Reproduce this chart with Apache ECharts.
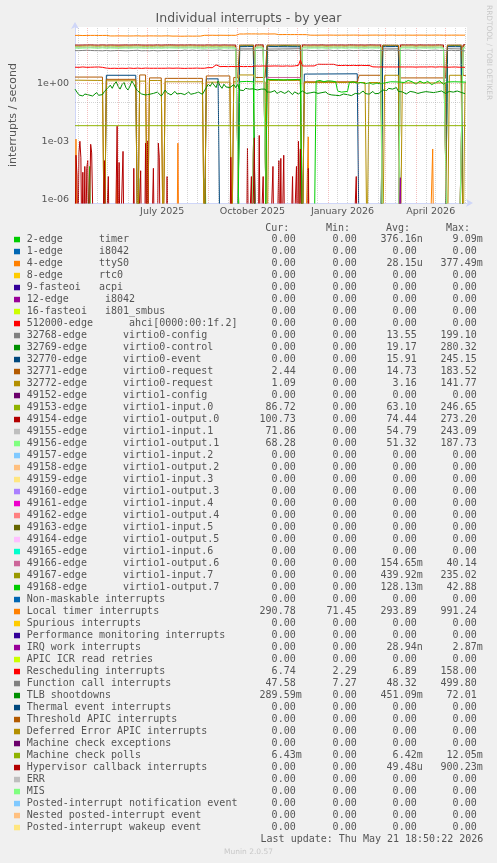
<!DOCTYPE html>
<html><head><meta charset="utf-8">
<script src="https://cdn.jsdelivr.net/npm/echarts@6/dist/echarts.min.js"></script>
<style>html,body{margin:0;padding:0;background:#F0F0F0;}#c{width:497px;height:863px;}</style>
</head><body><div id="c"></div>
<script>
// ---------- x axis (days since 2025-04-18) ----------
const startDate = Date.UTC(2025, 3, 18);
const DAY = 86400000;
const spanDays = 400;
const xLabelDates = [Date.UTC(2025,6,16), Date.UTC(2025,9,16), Date.UTC(2026,0,16), Date.UTC(2026,3,16)];
const xLabels = ['July 2025', 'October 2025', 'January 2026', 'April 2026'];
// ---------- y axis ----------
const yMin = 6.42e-7, yMax = 818;
const yTickValues = [1e-6, 1e-3, 1];
const yTickLabels = ['1e-06', '1e-03', '1e+00'];

// ---------- dense series (one value every 2 days) ----------
const loc = [
300,298,302,300,296,301,299,303,300,297,301,300,298,302,299,301,300,284,282,285,
282,280,284,281,283,279,282,285,281,280,283,282,286,281,279,283,282,280,284,281,
283,281,282,285,280,282,284,281,283,285,276,274,277,275,273,276,274,275,277,274,
275,273,276,274,277,305,303,307,304,302,306,305,303,304,306,302,305,307,303,305,
304,306,303,352,356,358,354,357,360,355,358,356,359,357,354,356,360,358,355,359,
357,355,359,356,331,328,332,330,333,329,331,330,332,329,331,328,330,332,329,331,
310,312,308,311,309,313,310,307,311,309,312,308,310,311,309,312,310,308,311,309,
310,308,312,309,311,310,307,312,309,311,310,308,311,309,312,310,308,311,310,309,
311,309,312,310,308,311,309,312,310,308,311,310,309,312,310,308,311,309,310,312,
309,311,310,308,312,309,311,310,308,311,309,312,310,308,311,309,310,312,309,311];
const cal = [
49,50,49,48,50,49,51,49,50,48,49,50,49,51,48,49,50,49,48,50,
49,48,50,49,49,51,48,50,49,48,50,49,51,49,48,50,49,50,48,49,
50,49,48,50,49,51,50,48,49,50,49,48,50,51,49,50,52,51,50,51,
52,51,50,52,51,53,52,50,51,52,51,50,52,51,53,51,50,52,51,50,
51,50,52,51,50,49,51,50,52,50,51,49,50,51,50,52,51,50,49,51,
50,51,49,50,52,51,50,49,51,50,51,49,50,51,50,49,51,50,52,51,
50,51,49,50,51,52,50,49,51,50,52,51,49,50,51,50,49,51,50,52,
51,50,49,51,50,52,51,49,50,51,50,52,51,50,49,51,50,51,49,50,
51,50,52,49,50,51,50,49,51,50,52,51,50,49,51,50,51,50,49,51,
50,49,51,50,52,51,50,49,51,50,49,50,51,50,49,48,50,49,48,48];
const res = [
6.8,6.9,6.7,6.8,7.0,6.8,6.7,6.9,6.8,6.7,6.9,6.8,7.0,6.8,6.7,6.9,6.1,6.0,5.9,6.0,
6.0,6.1,5.9,6.0,6.0,6.2,5.9,6.0,6.1,6.0,5.9,6.0,6.1,6.0,5.9,6.0,6.1,6.0,6.0,5.9,
6.0,6.1,6.0,5.9,6.0,6.2,6.0,5.9,6.1,6.0,6.0,5.9,6.1,6.0,6.0,6.1,5.9,6.0,6.0,6.1,
6.0,5.9,6.1,6.0,6.0,6.1,6.0,6.4,6.5,6.3,6.4,6.5,9.0,7.4,7.3,7.5,7.4,7.4,7.3,7.5,
7.4,7.5,7.3,7.4,7.5,7.4,7.3,7.5,7.4,7.4,7.3,7.5,7.8,7.9,7.7,7.8,7.9,7.8,7.7,7.9,
7.8,7.7,7.9,7.8,7.8,7.9,7.7,7.8,7.9,7.8,7.7,7.8,7.9,7.8,8.5,16,7.9,8.0,7.8,7.9,
7.9,8.0,7.9,9.6,9.7,9.5,9.6,9.7,9.6,9.5,9.6,9.7,9.6,9.5,8.4,8.5,8.3,8.4,8.5,8.4,
8.3,8.4,8.5,8.4,8.3,8.4,8.5,8.4,8.3,8.4,8.4,7.0,7.1,6.9,7.0,7.1,7.0,6.9,7.0,7.1,
7.0,6.9,7.0,7.1,7.0,6.9,7.0,7.1,7.0,6.9,7.0,7.1,7.0,7.0,6.9,7.1,7.0,6.9,7.0,7.1,
7.0,6.9,7.1,7.0,6.9,7.0,7.1,6.8,7.0,6.9,6.8,7.0,6.9,6.8,7.0,6.9,6.8,6.9,6.8,6.7];
const tlb = [
0.5,0.35,0.25,0.3,0.22,0.28,0.35,0.25,0.3,0.22,0.27,0.33,0.24,0.3,0.26,0.38,0.45,0.6,0.8,0.55,
0.9,1.2,0.7,0.5,0.85,1.1,0.6,0.45,0.7,1.3,0.9,0.55,0.4,0.35,0.28,0.32,0.25,0.3,0.27,0.24,
0.3,0.26,0.35,0.28,0.22,0.3,0.45,0.32,0.27,0.25,0.3,0.38,0.28,0.24,0.3,0.33,0.26,0.29,0.36,0.27,
0.25,0.3,0.28,0.35,0.3,0.27,0.32,0.6,0.9,0.7,1.1,0.8,0.6,1.3,0.75,0.55,0.9,0.65,0.8,0.6,
0.7,0.85,0.6,0.9,0.45,0.5,0.42,0.55,0.48,0.5,0.44,0.52,0.5,0.45,0.55,0.5,0.42,0.5,0.35,0.3,
0.35,0.28,0.42,0.3,0.25,0.38,0.45,0.3,0.27,0.4,0.33,0.26,0.36,0.3,0.28,0.34,0.4,0.35,0.3,0.38,
0.32,0.28,0.35,0.4,0.3,0.27,0.33,0.3,0.36,0.28,0.3,0.25,0.22,0.24,0.26,0.23,0.25,0.28,0.24,0.26,
0.25,0.23,0.27,0.3,0.35,0.28,0.32,0.4,0.3,0.34,0.27,0.31,0.38,0.29,0.33,0.3,0.36,0.45,0.5,0.42,
0.55,0.48,0.5,0.45,0.6,0.38,0.32,0.36,0.3,0.28,0.33,0.38,0.3,0.35,0.42,0.3,0.28,0.34,0.31,0.37,
0.45,0.35,0.3,0.33,0.28,0.36,0.3,0.4,0.32,0.3,0.34,0.38,0.42,0.35,0.3,0.4,0.5,0.34,0.3,0.29];
const in0 = [
84,85,83,86,84,83,85,84,86,83,84,85,83,84,86,85,83,84,85,83,
84,86,83,85,84,83,85,86,84,83,85,84,86,83,84,85,83,86,84,85,
83,84,86,85,83,84,85,83,86,84,85,83,84,86,85,83,84,85,86,84,
85,83,84,86,84,85,83,84,86,85,83,84,85,86,83,84,85,83,84,86,
84,85,83,84,0,0,0,0,0,0,0,0,85,84,86,83,85,84,0,0,
0,0,0,0,0,0,0,0,0,0,0,0,0,0,0,0,86,84,85,83,
84,86,85,83,84,85,86,84,83,85,84,86,85,83,84,86,85,84,83,85,
86,84,85,83,84,86,85,84,83,85,86,84,85,83,84,85,86,0,0,0,
0,0,0,0,0,0,85,84,86,83,85,84,86,85,83,84,86,85,84,83,
85,86,84,83,85,84,86,85,83,84,0,0,0,0,0,0,0,0,86,87];
const out0 = [
96,97,95,98,96,95,97,96,98,95,96,97,95,96,98,97,95,96,97,95,
96,98,95,97,96,95,97,98,96,95,97,96,98,95,96,97,95,98,96,97,
95,96,98,97,95,96,97,95,98,96,97,95,96,98,97,95,96,97,98,96,
97,95,96,98,96,97,95,96,98,97,95,96,97,98,95,96,97,95,96,98,
96,97,95,96,0,0,0,0,0,0,0,0,97,96,98,95,97,96,0,0,
0,0,0,0,0,0,0,0,0,0,0,0,0,0,0,0,98,96,97,95,
96,98,97,95,96,97,98,96,95,97,96,98,97,95,96,98,97,96,95,97,
98,96,97,95,96,98,97,96,95,97,98,96,97,95,96,97,98,0,0,0,
0,0,0,0,0,0,97,96,98,95,97,96,98,97,95,96,98,97,96,95,
97,98,96,95,97,96,98,97,95,96,0,0,0,0,0,0,0,0,98,100];
const in1 = [
71,72,70,73,71,70,72,71,73,70,71,72,70,71,73,72,70,71,72,70,
71,73,70,72,71,70,72,73,71,70,72,71,73,70,71,72,70,73,71,72,
70,71,73,72,70,71,72,70,73,71,72,70,71,73,72,70,71,72,73,71,
72,70,71,73,71,72,70,71,73,72,70,71,72,73,70,71,72,70,71,73,
71,72,70,71,0,0,0,0,0,0,0,0,72,71,73,70,72,71,0,0,
0,0,0,0,0,0,0,0,0,0,0,0,0,0,0,0,73,71,72,70,
71,73,72,70,71,72,73,71,70,72,71,73,72,70,71,73,72,71,70,72,
73,71,72,70,71,73,72,71,70,72,73,71,72,70,71,72,73,0,0,0,
0,0,0,0,0,0,72,71,73,70,72,71,73,72,70,71,73,72,71,70,
72,73,71,70,72,71,73,72,70,71,0,0,0,0,0,0,0,0,71,72];
const out1 = [
66,67,65,68,66,65,67,66,68,65,66,67,65,66,68,67,65,66,67,65,
66,68,65,67,66,65,67,68,66,65,67,66,68,65,66,67,65,68,66,67,
65,66,68,67,65,66,67,65,68,66,67,65,66,68,67,65,66,67,68,66,
67,65,66,68,66,67,65,66,68,67,65,66,67,68,65,66,67,65,66,68,
66,67,65,66,0,0,0,0,0,0,0,0,67,66,68,65,67,66,0,0,
0,0,0,0,0,0,0,0,0,0,0,0,0,0,0,0,68,66,67,65,
66,68,67,65,66,67,68,66,65,67,66,68,67,65,66,68,67,66,65,67,
68,66,67,65,66,68,67,66,65,67,68,66,67,65,66,67,68,0,0,0,
0,0,0,0,0,0,67,66,68,65,67,66,68,67,65,66,68,67,66,65,
67,68,66,65,67,66,68,67,65,66,0,0,0,0,0,0,0,0,67,68];

// ---------- series given as (day, value) points ----------
const cfgDays = [0,166,168,182,184,194,196,230,232,312,314,330,332,378,380,394,396,399];
const cfgVals = [0,0,60,61,0,0,59,62,0,0,60,61,0,0,62,60,0,0];
const ctlDays = [0,166,168,175,182,184,194,196,205,213,222,230,232,312,314,322,330,332,378,380,387,394,396,399];
const ctlVals = [0,0,84,87,85,0,0,86,83,88,85,84,0,0,87,85,86,0,0,85,88,86,0,0];
const evtDays = [0,30,32,62,64,132,134,146,148,166,168,182,184,194,196,230,232,234,288,290,312,314,330,332,378,380,394,396,399];
const evtVals = [0,0,2.6,2.6,0,0,1.7,1.7,0,0,78,80,0,0,79,77,0,3.0,3.1,0,0,78,80,0,0,79,78,0,0];
const req1Days = [0,28,30,32,62,64,66,72,74,76,88,90,92,130,132,134,158,160,162,166,168,182,184,194,196,230,232,234,288,290,312,314,330,332,378,380,394,396,399];
const req1Vals = [2.1,2.1,0,1.6,1.6,0,2.7,2.7,0,1.9,1.9,0,1.8,1.8,0,2.4,2.4,0,2.0,2.0,95,96,2.0,2.0,95,96,0,1.2,1.2,2.6,2.6,95,94,1.9,1.9,95,96,2.6,2.44];
const req2Days = [0,28,30,32,62,64,66,72,74,76,88,90,92,130,132,134,158,160,162,166,168,182,184,194,196,198,230,232,234,296,298,300,312,314,316,330,332,334,378,380,382,394,396,398,399];
const req2Vals = [1.45,1.4,0,1.35,1.35,0,1.3,1.3,0,1.4,1.4,0,1.2,1.2,0,1.15,1.15,0,1.2,1.2,2.7,2.7,1.2,1.2,0,1.4,1.4,0,1.1,1.1,0,1.1,1.1,0,2.6,2.6,0,1.05,1.05,0,2.6,2.6,0,1.09,1.09];
const out6Days = [0,194,196,230,232,399];
const out6Vals = [0,0,2.0,2.0,0,0];
const in7Days = [0,194,196,230,232,399];
const in7Vals = [0,0,1.5,1.5,0,0];
const out7Days = [0,166,168,175,182,184,194,196,213,230,232,244,246,250,254,258,262,266,268,272,278,280,284,288,292,296,300,304,308,312,314,322,330,332,336,340,344,348,352,356,360,364,368,372,376,378,380,387,394,396,399];
const out7Vals = [0,0,1.2,1.25,1.2,0,0,1.6,1.5,1.6,0,0,1.3,1.4,1.2,1.35,1.3,1.2,0.4,0.35,0.38,1.1,1.2,1.0,1.1,0.95,1.05,0.9,1.0,0.95,1.17,1.2,1.17,1.3,1.1,1.4,1.2,0.9,1.3,1.0,1.25,0.85,1.1,1.35,0.9,1.0,1.17,1.2,1.17,1.2,1.15];
const mcpDays = [0,100,200,300,399];
const mcpVals = [6.42e-3,6.42e-3,6.41e-3,6.42e-3,6.43e-3];

// ---------- spike series (days with non-zero daily average) ----------
const hypDays = [1,2,4,5,6,8,10,12,13,16,17,18,30,34,43,45,49,60,67,72,74,80,85,86,94,159,176,180,183,188,192,202,208,210,213,222,226,228,230,238,287];
const hypVals = [1.9e-4,1.8e-5,2.5e-4,1e-3,1.4e-4,2.5e-5,5e-5,4e-5,1e-4,7e-4,2.5e-4,2e-4,1e-4,1.5e-5,6e-3,8e-5,3e-4,4e-5,3e-5,8e-4,1e-3,4e-5,8e-4,1.5e-4,1.5e-5,1.5e-4,4.5e-4,1.5e-5,1.5e-3,2e-3,1.5e-5,5e-5,1e-4,1.3e-4,1.9e-4,1.5e-5,5e-5,1e-3,4e-4,4e-5,1.5e-5];
const ttyDays = [1,43,105,238,365];
const ttyVals = [1.3e-3,1e-5,8e-4,1.7e-3,4e-4];
const timerDays = [15,65,133];
const timerVals = [5e-5,1.2e-5,1.2e-5];
const iwiDays = [332];
const iwiVals = [1.3e-5];

// ---------- legend table ----------
const legendNames = [
'2-edge      timer','1-edge      i8042','4-edge      ttyS0','8-edge      rtc0','9-fasteoi   acpi',
'12-edge      i8042','16-fasteoi   i801_smbus','512000-edge      ahci[0000:00:1f.2]',
'32768-edge      virtio0-config','32769-edge      virtio0-control','32770-edge      virtio0-event',
'32771-edge      virtio0-request','32772-edge      virtio0-request','49152-edge      virtio1-config',
'49153-edge      virtio1-input.0','49154-edge      virtio1-output.0','49155-edge      virtio1-input.1',
'49156-edge      virtio1-output.1','49157-edge      virtio1-input.2','49158-edge      virtio1-output.2',
'49159-edge      virtio1-input.3','49160-edge      virtio1-output.3','49161-edge      virtio1-input.4',
'49162-edge      virtio1-output.4','49163-edge      virtio1-input.5','49164-edge      virtio1-output.5',
'49165-edge      virtio1-input.6','49166-edge      virtio1-output.6','49167-edge      virtio1-input.7',
'49168-edge      virtio1-output.7','Non-maskable interrupts','Local timer interrupts','Spurious interrupts',
'Performance monitoring interrupts','IRQ work interrupts','APIC ICR read retries','Rescheduling interrupts',
'Function call interrupts','TLB shootdowns','Thermal event interrupts','Threshold APIC interrupts',
'Deferred Error APIC interrupts','Machine check exceptions','Machine check polls',
'Hypervisor callback interrupts','ERR','MIS','Posted-interrupt notification event',
'Nested posted-interrupt event','Posted-interrupt wakeup event'];
const Z = '0.00';
const curVals = [Z,Z,Z,Z,Z,Z,Z,Z,Z,Z,Z,'2.44','1.09',Z,'86.72','100.73','71.86','68.28',
Z,Z,Z,Z,Z,Z,Z,Z,Z,Z,Z,Z,Z,'290.78',Z,Z,Z,Z,'6.74','47.58','289.59m',Z,Z,Z,Z,'6.43m',Z,Z,Z,Z,Z,Z];
const minVals = [Z,Z,Z,Z,Z,Z,Z,Z,Z,Z,Z,Z,Z,Z,Z,Z,Z,Z,Z,Z,Z,Z,Z,Z,Z,Z,Z,Z,Z,Z,Z,'71.45',Z,Z,Z,Z,'2.29','7.27',
Z,Z,Z,Z,Z,Z,Z,Z,Z,Z,Z,Z];
const avgVals = ['376.16n',Z,'28.15u',Z,Z,Z,Z,Z,'13.55','19.17','15.91','14.73','3.16',Z,'63.10','74.44','54.79','51.32',
Z,Z,Z,Z,Z,Z,Z,Z,Z,'154.65m','439.92m','128.13m',Z,'293.89',Z,Z,'28.94n',Z,'6.89','48.32','451.09m',
Z,Z,Z,Z,'6.42m','49.48u',Z,Z,Z,Z,Z];
const maxVals = ['9.09m',Z,'377.49m',Z,Z,Z,Z,Z,'199.10','280.32','245.15','183.52','141.77',Z,'246.65','273.20','243.09','187.73',
Z,Z,Z,Z,Z,Z,Z,Z,Z,'40.14','235.02','42.88',Z,'991.24',Z,Z,'2.87m',Z,'158.00','499.80','72.01',
Z,Z,Z,Z,'12.05m','900.23m',Z,Z,Z,Z,Z];
const palette = ['#00CC00','#0066B3','#FF8000','#FFCC00','#330099','#990099','#CCFF00','#FF0000','#808080',
'#008F00','#00487D','#B35A00','#B38F00','#6B006B','#8FB300','#B30000','#BEBEBE','#80FF80',
'#80C9FF','#FFC080','#FFE680','#AA80FF','#EE00CC','#FF8080','#666600','#FFBFFF','#00FFCC','#CC6699','#999900'];

// ---------- build ----------
const FLOOR = 1e-9;
const dayOf = t => (t - startDate) / DAY;
const pairs = (days, vals) => days.map((d, i) => [d, vals[i] > 0 ? vals[i] : FLOOR]);
const dense = vals => pairs(vals.map((v, i) => 2 * i), vals);
const spikes = (days, vals) => {
  const full = new Array(spanDays).fill(0);
  days.forEach((d, i) => { full[d] = vals[i]; });
  return pairs(full.map((v, i) => i), full);
};
const line = (k, data) => ({
  type: 'line', name: legendNames[k], data, showSymbol: false, symbol: 'none', z: 3, silent: true,
  lineStyle: { width: 1, color: palette[k % palette.length] }, itemStyle: { color: palette[k % palette.length] }
});

const redGrid = 'rgba(225,110,110,0.45)', grayGrid = 'rgba(160,160,160,0.45)';
const vLines = [];
for (let k = 0; k < 15; k++) {
  const y = 2025 + Math.floor((3 + k) / 12), m = (3 + k) % 12;
  [1, 11, 21].forEach(dd => {
    const d = dayOf(Date.UTC(y, m, dd));
    if (d > 0 && d < spanDays) vLines.push({ xAxis: d, lineStyle: { color: dd === 1 ? redGrid : grayGrid } });
  });
}
const hLines = [];
for (let e = -6; e <= 2; e++) hLines.push({ yAxis: Math.pow(10, e), lineStyle: { color: e % 3 === 0 ? redGrid : grayGrid } });

const series = [
  { type: 'line', data: [], z: 1, silent: true,
    markLine: { silent: true, symbol: ['none', 'none'], label: { show: false }, animation: false,
      lineStyle: { width: 1, type: [1, 1] }, data: vLines.concat(hLines) } },
  line(0, spikes(timerDays, timerVals)),
  line(2, spikes(ttyDays, ttyVals)),
  line(8, pairs(cfgDays, cfgVals)),
  line(9, pairs(ctlDays, ctlVals)),
  line(10, pairs(evtDays, evtVals)),
  line(11, pairs(req1Days, req1Vals)),
  line(12, pairs(req2Days, req2Vals)),
  line(14, dense(in0)),
  line(15, dense(out0)),
  line(16, dense(in1)),
  line(17, dense(out1)),
  line(27, pairs(out6Days, out6Vals)),
  line(28, pairs(in7Days, in7Vals)),
  line(29, pairs(out7Days, out7Vals)),
  line(31, dense(loc)),
  line(34, spikes(iwiDays, iwiVals)),
  line(36, dense(res)),
  line(37, dense(cal)),
  line(38, dense(tlb)),
  line(43, pairs(mcpDays, mcpVals)),
  line(44, spikes(hypDays, hypVals))
];

const MONO = '"DejaVu Sans Mono", monospace';
const SANS = '"DejaVu Sans", sans-serif';
const TXT = '#555';
const graphic = [];
const rowY = k => 239.3 + 12 * k;
[['Cur:', 289.3], ['Min:', 350], ['Avg:', 410], ['Max:', 470]].forEach(([t, x]) =>
  graphic.push({ type: 'text', x, y: 228.3, style: { text: t, font: '10px ' + MONO, fill: TXT, textAlign: 'right', textVerticalAlign: 'middle' } }));
const colEnds = [295.7, 356.7, 416.7, 476.7];
const cols = [curVals, minVals, avgVals, maxVals];
legendNames.forEach((name, k) => {
  const y = rowY(k);
  graphic.push({ type: 'rect', shape: { x: 14, y: y - 2.5, width: 6, height: 5.5 }, style: { fill: palette[k % palette.length] } });
  graphic.push({ type: 'text', x: 26.7, y, style: { text: name, font: '10px ' + MONO, fill: TXT, textAlign: 'left', textVerticalAlign: 'middle' } });
  cols.forEach((col, c) => {
    const s = col[k];
    const unit = /[a-z]$/i.test(s) ? s.slice(-1) : '';
    const num = unit ? s.slice(0, -1) : s;
    graphic.push({ type: 'text', x: colEnds[c], y, style: { text: num, font: '10px ' + MONO, fill: TXT, textAlign: 'right', textVerticalAlign: 'middle' } });
    if (unit) graphic.push({ type: 'text', x: colEnds[c], y, style: { text: unit, font: '10px ' + MONO, fill: TXT, textAlign: 'left', textVerticalAlign: 'middle' } });
  });
});
graphic.push({ type: 'text', x: 483.3, y: 839.3, style: { text: 'Last update: Thu May 21 18:50:22 2026', font: '10px ' + MONO, fill: TXT, textAlign: 'right', textVerticalAlign: 'middle' } });
graphic.push({ type: 'text', x: 248.5, y: 852.3, style: { text: 'Munin 2.0.57', font: '7.5px ' + SANS, fill: '#C8C8C8', textAlign: 'center', textVerticalAlign: 'middle' } });
graphic.push({ type: 'text', x: 488.5, y: 5, rotation: -Math.PI / 2, style: { text: 'RRDTOOL / TOBI OETIKER', font: '7.4px ' + SANS, fill: '#C8C8C8', textAlign: 'left', textVerticalAlign: 'middle' } });

const xTickDays = xLabelDates.map(dayOf);
const chart = echarts.init(document.getElementById('c'), null, { renderer: 'canvas' });
chart.setOption({
  animation: false,
  backgroundColor: '#F0F0F0',
  title: { text: 'Individual interrupts - by year', left: 'center', top: 12, padding: 0,
    textStyle: { fontFamily: SANS, fontSize: 12.5, fontWeight: 'normal', color: TXT } },
  grid: { left: 67, top: 27, width: 400, height: 176, show: true, backgroundColor: '#FFFFFF', borderWidth: 0 },
  xAxis: {
    type: 'value', min: 0, max: spanDays,
    axisLine: { show: true, lineStyle: { color: '#CFD6F8', width: 1 }, symbol: ['none', 'arrow'], symbolSize: [6, 7], symbolOffset: [0, 6] },
    axisTick: { show: false }, splitLine: { show: false },
    axisLabel: { customValues: xTickDays, fontFamily: SANS, fontSize: 9.5, color: TXT, margin: 4,
      formatter: v => { const i = xTickDays.findIndex(t => Math.abs(t - v) < 0.5); return i >= 0 ? xLabels[i] : ''; } }
  },
  yAxis: {
    type: 'log', logBase: 10, min: yMin, max: yMax,
    name: 'interrupts / second', nameLocation: 'middle', nameGap: 56, nameRotate: 90,
    nameTextStyle: { fontFamily: SANS, fontSize: 11, color: TXT },
    axisLine: { show: true, lineStyle: { color: '#CFD6F8', width: 1 }, symbol: ['none', 'arrow'], symbolSize: [6, 7], symbolOffset: [0, 5] },
    axisTick: { show: false }, splitLine: { show: false },
    axisLabel: { customValues: yTickValues, fontFamily: SANS, fontSize: 9.5, color: TXT, margin: 6,
      formatter: v => { const i = yTickValues.findIndex(t => Math.abs(Math.log10(t) - Math.log10(v)) < 0.01); return i >= 0 ? yTickLabels[i] : ''; } }
  },
  graphic,
  series
});
</script></body></html>
